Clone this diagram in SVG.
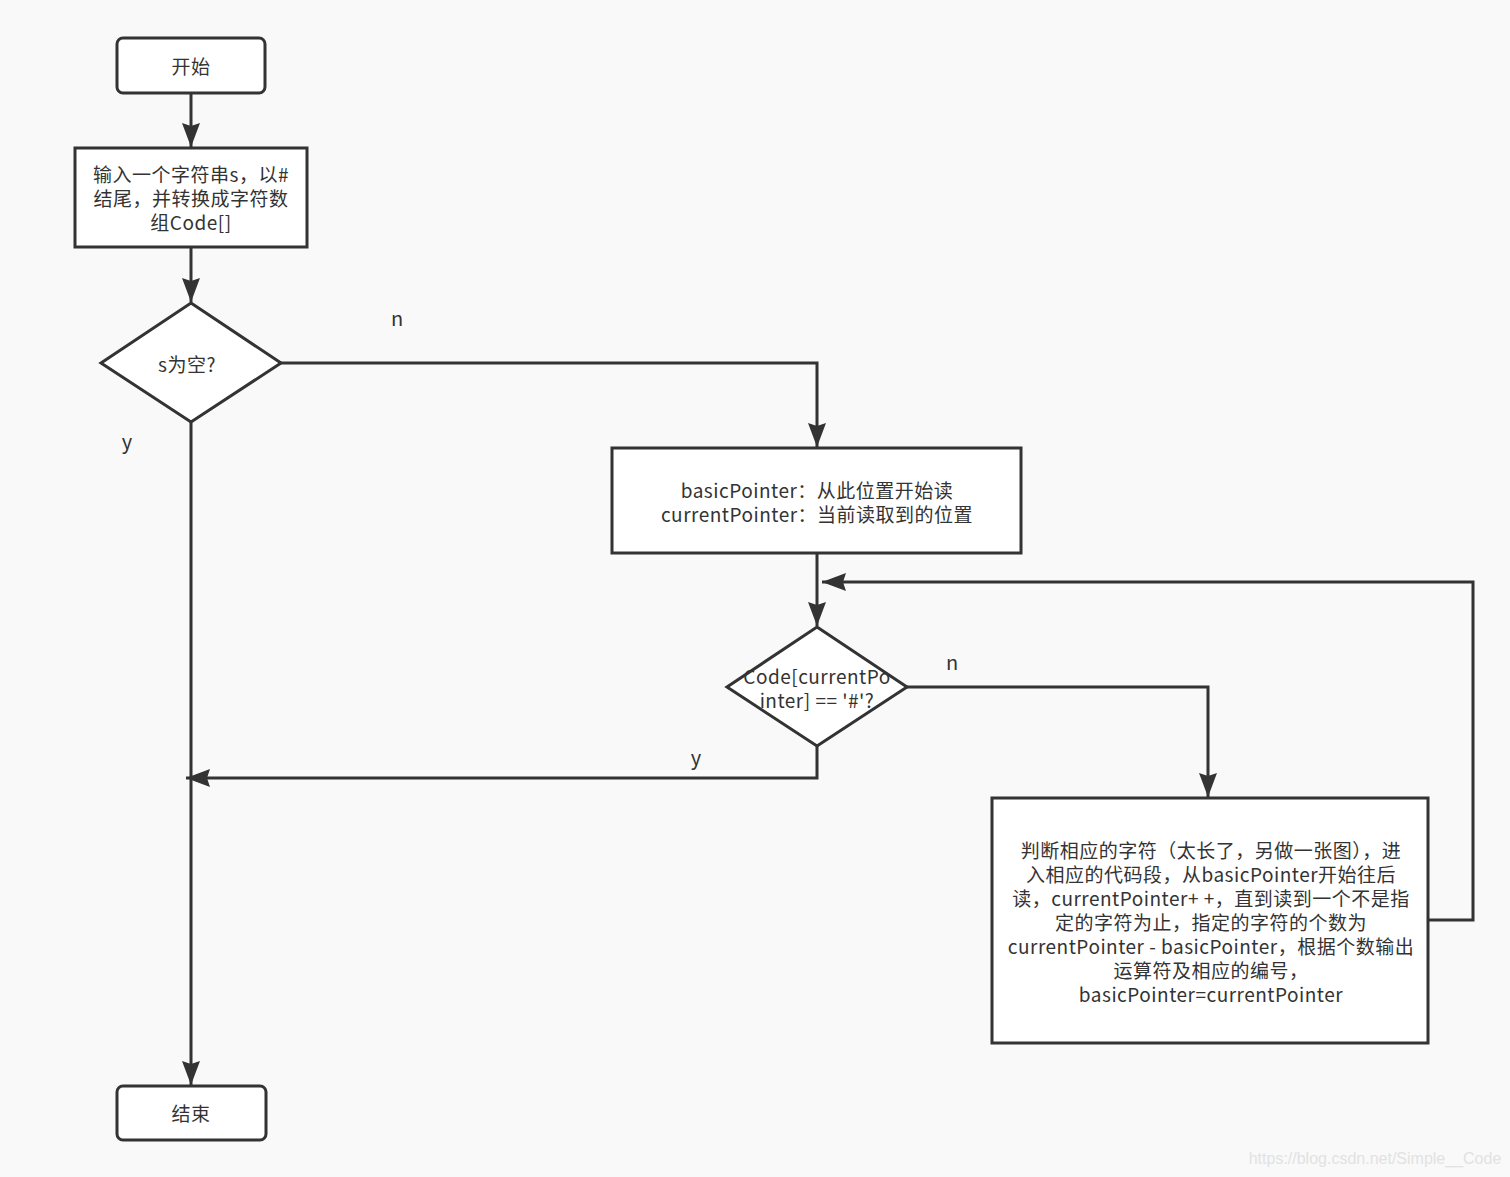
<svg xmlns="http://www.w3.org/2000/svg" width="1510" height="1177" viewBox="0 0 1510 1177">
<defs>
<style>
.n{fill:#fff;stroke:#333;stroke-width:3}
.c{fill:none;stroke:#333;stroke-width:3}
.t{font-family:"Noto Sans CJK SC","Liberation Sans",sans-serif;font-size:19px;letter-spacing:0.5px;fill:#333;text-anchor:middle}
.l{font-family:"Noto Sans CJK SC","Liberation Sans",sans-serif;font-size:20px;fill:#333;text-anchor:middle}
</style>
<marker id="a" markerWidth="24" markerHeight="18" refX="24" refY="9" orient="auto" markerUnits="userSpaceOnUse">
<path d="M0,0 L24,9 L0,18 L3,9 Z" fill="#333"/>
</marker>
</defs>
<rect width="1510" height="1177" fill="#f9f9f9"/>
<g id="connectors">
<line class="c" x1="191" y1="93" x2="191" y2="147" marker-end="url(#a)"/>
<line class="c" x1="191" y1="247" x2="191" y2="302" marker-end="url(#a)"/>
<polyline class="c" points="281,363 817,363 817,447" marker-end="url(#a)"/>
<line class="c" x1="191" y1="422" x2="191" y2="1085" marker-end="url(#a)"/>
<line class="c" x1="817" y1="553" x2="817" y2="626" marker-end="url(#a)"/>
<polyline class="c" points="907,687 1208,687 1208,797" marker-end="url(#a)"/>
<polyline class="c" points="817,746 817,778 186,778" marker-end="url(#a)"/>
<polyline class="c" points="1428,920 1473,920 1473,582 822,582" marker-end="url(#a)"/>
<text class="l" x="397" y="326">n</text>
<text class="l" x="127" y="449">y</text>
<text class="l" x="952" y="670">n</text>
<text class="l" x="696" y="765">y</text>
</g>
<g id="start">
<rect class="n" x="117" y="38" width="148" height="55" rx="6"/>
<text class="t" x="191" y="74">开始</text>
</g>
<g id="input">
<rect class="n" x="75" y="148" width="232" height="99"/>
<text class="t" x="191" y="182">输入一个字符串s，以#</text>
<text class="t" x="191" y="206">结尾，并转换成字符数</text>
<text class="t" x="191" y="230">组Code[]</text>
</g>
<g id="empty">
<polygon class="n" points="191,303 281,363 191,422 101,363"/>
<text class="t" x="187" y="372">s为空?</text>
</g>
<g id="pointers">
<rect class="n" x="612" y="448" width="409" height="105"/>
<text class="t" x="817" y="498">basicPointer：从此位置开始读</text>
<text class="t" x="817" y="522">currentPointer：当前读取到的位置</text>
</g>
<g id="check">
<polygon class="n" points="817,627 907,687 817,746 727,687"/>
<text class="t" x="817" y="684">Code[currentPo</text>
<text class="t" x="817" y="708">inter] == '#'?</text>
</g>
<g id="process">
<rect class="n" x="992" y="798" width="436" height="245"/>
<text class="t" x="1211" y="858">判断相应的字符（太长了，另做一张图），进</text>
<text class="t" x="1211" y="882">入相应的代码段，从basicPointer开始往后</text>
<text class="t" x="1211" y="906">读，currentPointer+ +，直到读到一个不是指</text>
<text class="t" x="1211" y="930">定的字符为止，指定的字符的个数为</text>
<text class="t" x="1211" y="954">currentPointer - basicPointer，根据个数输出</text>
<text class="t" x="1211" y="978">运算符及相应的编号，</text>
<text class="t" x="1211" y="1002">basicPointer=currentPointer</text>
</g>
<g id="end">
<rect class="n" x="117" y="1086" width="149" height="54" rx="6"/>
<text class="t" x="191" y="1121">结束</text>
</g>
<text x="1375" y="1164" font-family="Liberation Sans, sans-serif" font-size="16" fill="#e2e2e2" text-anchor="middle">https://blog.csdn.net/Simple__Code</text>
</svg>
